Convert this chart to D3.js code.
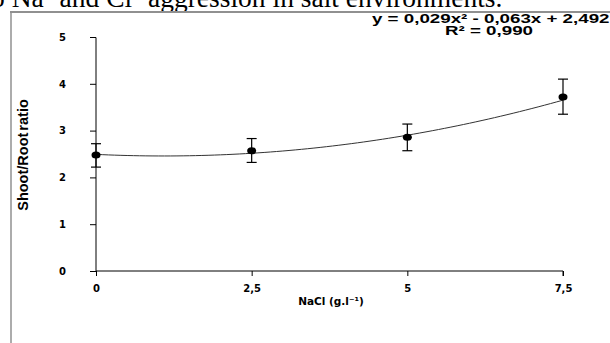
<!DOCTYPE html>
<html lang="en">
<head>
  <meta charset="UTF-8">
  <title>Shoot/Root ratio</title>
  <script src="https://cdn.jsdelivr.net/npm/d3@7/dist/d3.min.js"></script>
  <style>
    html, body { margin: 0; padding: 0; background: #fff; overflow: hidden; }
    svg { display: block; }
    .tick text { font-family: "DejaVu Sans", Verdana, sans-serif; font-weight: bold; font-size: 10px; fill: #000; }
  </style>
</head>
<body>
  <svg width="610" height="343"></svg>
  <script>
    // data
    const nacl = [0, 2.5, 5, 7.5]
    const ratio = [2.48, 2.57, 2.86, 3.72]
    const errLow = [2.22, 2.32, 2.57, 3.35]
    const errHigh = [2.72, 2.83, 3.14, 4.10]
    const yTicks = [0, 1, 2, 3, 4, 5]
    const xTicks = [0, 2.5, 5, 7.5]
    // polynomial trend line shown on the chart: y = 0,029x² - 0,063x + 2,492
    const trendCoef = [2.492, -0.063, 0.029]

    const svg = d3.select('svg')
    const fmt = d => String(d).replace('.', ',')

    // caption text cut by the top edge
    svg.append('text')
      .attr('x', -9)
      .attr('y', 7)
      .attr('font-family', '"Liberation Serif", "Times New Roman", serif')
      .attr('font-size', 27.5)
      .text('o Na\u207A and Cl\u207B aggression in salt environments.')

    // chart frame
    svg.append('line')
      .attr('x1', 10).attr('x2', 610).attr('y1', 12).attr('y2', 12)
      .attr('stroke', '#909090').attr('stroke-width', 2)
    svg.append('line')
      .attr('x1', 11).attr('x2', 11).attr('y1', 11).attr('y2', 343)
      .attr('stroke', '#909090').attr('stroke-width', 1.5)

    const x = d3.scaleLinear().domain([0, 7.5]).range([96, 563])
    const y = d3.scaleLinear().domain([0, 5]).range([271, 37])

    svg.append('g')
      .attr('transform', 'translate(96,0)')
      .call(d3.axisLeft(y).tickValues(yTicks).tickSize(6).tickPadding(24).tickFormat(d3.format('d')))
      .call(g => g.select('.domain').attr('d', 'M-6,37.5 H0 V271'))

    svg.append('g')
      .attr('transform', 'translate(0,271)')
      .call(d3.axisBottom(x).tickValues(xTicks).tickSize(5).tickPadding(9).tickFormat(fmt))
      .call(g => g.select('.domain').attr('d', 'M96,0 H563 V5'))

    svg.selectAll('.tick line').attr('stroke', '#000')
    svg.selectAll('.domain').attr('stroke', '#000').attr('fill', 'none')

    // trend line
    const trend = d3.range(0, 7.5001, 0.1).map(v => [v, trendCoef[0] + trendCoef[1] * v + trendCoef[2] * v * v])
    svg.append('path')
      .datum(trend)
      .attr('fill', 'none')
      .attr('stroke', '#333')
      .attr('stroke-width', 1)
      .attr('d', d3.line().x(d => x(d[0])).y(d => y(d[1])))

    // error bars
    const eb = svg.append('g').attr('stroke', '#000').attr('stroke-width', 1.2)
    eb.selectAll('line.v').data(nacl).enter().append('line')
      .attr('x1', d => x(d)).attr('x2', d => x(d))
      .attr('y1', (d, i) => y(errLow[i])).attr('y2', (d, i) => y(errHigh[i]))
    eb.selectAll('line.t').data(nacl).enter().append('line')
      .attr('x1', d => x(d) - 5).attr('x2', d => x(d) + 5)
      .attr('y1', (d, i) => y(errHigh[i])).attr('y2', (d, i) => y(errHigh[i]))
    eb.selectAll('line.b').data(nacl).enter().append('line')
      .attr('x1', d => x(d) - 5).attr('x2', d => x(d) + 5)
      .attr('y1', (d, i) => y(errLow[i])).attr('y2', (d, i) => y(errLow[i]))

    // markers
    svg.selectAll('ellipse').data(nacl).enter().append('ellipse')
      .attr('cx', d => x(d))
      .attr('cy', (d, i) => y(ratio[i]))
      .attr('rx', 4.5)
      .attr('ry', 3.5)
      .attr('fill', '#000')

    // equation (wide bold glyphs, stretched horizontally)
    const eq = svg.append('g')
      .attr('transform', 'translate(372,0) scale(1.5,1)')
      .attr('font-family', 'Arial, "Liberation Sans", sans-serif')
      .attr('font-weight', 'bold')
      .attr('font-size', 12.5)
    eq.append('text').attr('x', 0).attr('y', 23).text('y = 0,029x\u00B2 - 0,063x + 2,492')
    eq.append('text').attr('x', 78).attr('y', 35).attr('text-anchor', 'middle').text('R\u00B2 = 0,990')

    // axis titles
    svg.append('text')
      .attr('x', 331)
      .attr('y', 305)
      .attr('text-anchor', 'middle')
      .attr('font-family', '"DejaVu Sans", Verdana, sans-serif')
      .attr('font-weight', 'bold')
      .attr('font-size', 10.5)
      .text('NaCl (g.l\u207B\u00B9)')

    svg.append('text')
      .attr('transform', 'translate(28,155) rotate(-90)')
      .attr('text-anchor', 'middle')
      .attr('font-family', '"Liberation Sans Narrow", Arial, sans-serif')
      .attr('font-weight', 'bold')
      .attr('font-size', 14.5)
      .attr('word-spacing', -2)
      .text('Shoot/Root ratio')
  </script>
</body>
</html>
